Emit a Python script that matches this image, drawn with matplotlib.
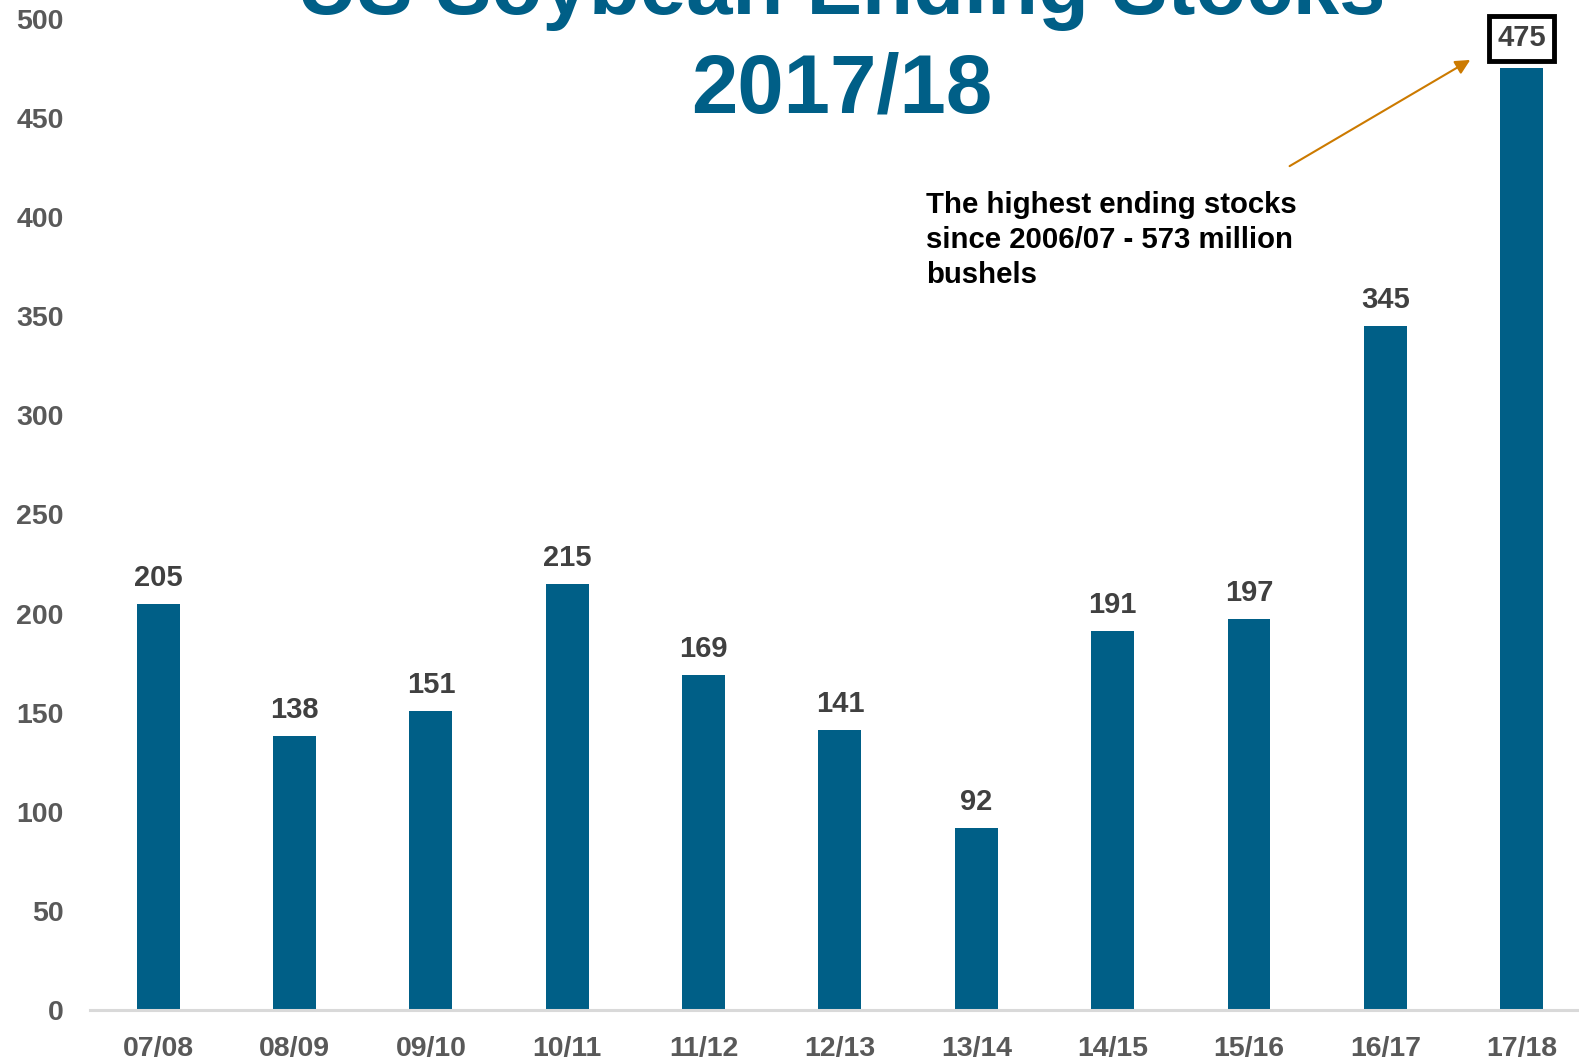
import matplotlib.pyplot as plt

# === data ===
seasons = ["07/08", "08/09", "09/10", "10/11", "11/12", "12/13",
           "13/14", "14/15", "15/16", "16/17", "17/18"]
stocks = [205, 138, 151, 215, 169, 141, 92, 191, 197, 345, 475]
y_ticks = [0, 50, 100, 150, 200, 250, 300, 350, 400, 450, 500]

title_line1 = "US Soybean Ending Stocks"
title_line2 = "2017/18"
note = "The highest ending stocks\nsince 2006/07 - 573 million\nbushels"

BAR = "#005f87"
plt.rcParams["font.family"] = ["Liberation Sans", "DejaVu Sans"]
plt.rcParams["font.weight"] = "bold"

fig = plt.figure(figsize=(15.79, 10.60), dpi=100)
ax = fig.add_axes([0.057, 0.0472, 0.943, 0.935])

x = range(len(seasons))
ax.bar(x, stocks, width=0.315, color=BAR, zorder=2)

# value labels
for i, v in enumerate(stocks):
    if i == len(stocks) - 1:
        ax.annotate(str(v), (i, v), xytext=(0, 30), textcoords="offset pixels",
                    ha="center", va="center", fontsize=21, fontweight="bold",
                    color="#404040",
                    bbox=dict(boxstyle="square,pad=0.28", fc="white",
                              ec="black", lw=3.5))
    else:
        ax.annotate(str(v), (i, v), xytext=(0, 26), textcoords="offset pixels",
                    ha="center", va="center", fontsize=21, fontweight="bold",
                    color="#404040")

ax.set_ylim(0, 500)
ax.set_xlim(-0.5, 10.42)
ax.set_yticks(y_ticks)
ax.set_xticks(list(x))
ax.set_xticklabels(seasons)
ax.tick_params(axis="both", length=0, labelsize=20.5, labelcolor="#595959")
ax.tick_params(axis="y", pad=19)
ax.tick_params(axis="x", pad=19)
for lbl in ax.get_xticklabels() + ax.get_yticklabels():
    lbl.set_fontweight("bold")

for s in ["top", "right", "left"]:
    ax.spines[s].set_visible(False)
ax.spines["bottom"].set_color("#d9d9d9")
ax.spines["bottom"].set_linewidth(2.2)

# note + arrow
ax.text(5.63, 413, note, ha="left", va="top", fontsize=21.2,
        fontweight="bold", color="black", linespacing=1.32)
ax.annotate("", xy=(9.64, 480), xytext=(8.28, 425),
            arrowprops=dict(arrowstyle="-|>", color="#cc7a00", lw=1.5,
                            mutation_scale=22))

# title (first line partly cut off at the top, like the source)
fig.text(0.533, 1 - 14 / 1060, title_line1, ha="center", va="baseline",
         fontsize=60, fontweight="bold", color=BAR)
fig.text(0.533, 1 - 113 / 1060, title_line2, ha="center", va="baseline",
         fontsize=60, fontweight="bold", color=BAR)

fig.savefig("out.png", dpi=100)
